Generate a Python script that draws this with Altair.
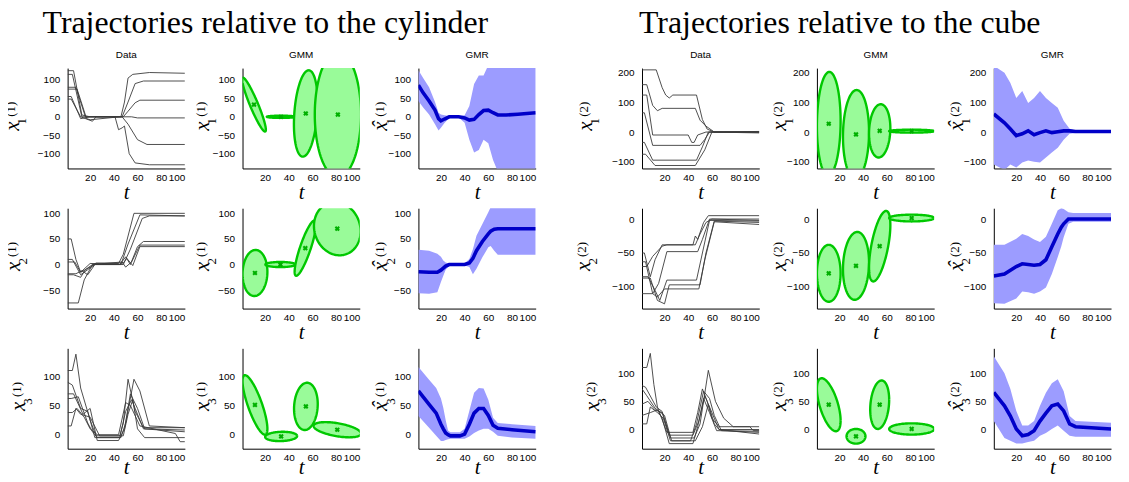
import altair as alt
import numpy as np
import pandas as pd

W, H = 118, 101
T_DOMAIN = [1, 100]
T_TICKS = [20, 40, 60, 80, 100]

CYL_YDOM = [[-140, 132], [-86, 110], [-24, 148]]
CYL_YTICKS = [[-100, -50, 0, 50, 100], [-50, 0, 50, 100], [0, 50, 100]]
CUBE_YDOM = [[-123, 216], [-132, 16], [-34, 144]]
CUBE_YTICKS = [[-100, 0, 100, 200], [-100, -50, 0], [0, 50, 100]]

GROUP_TITLES = ["Trajectories relative to the cylinder", "Trajectories relative to the cube"]
PANEL_TITLES = ["Data", "GMM", "GMR"]

# ---------------- Data: demonstrated trajectories (key points) ----------------
CYL_D1_T = [[1, 6, 13, 20, 46, 49, 52, 56, 70, 100],
            [1, 5, 13, 20, 47, 52, 58, 65, 100],
            [1, 8, 16, 48, 52, 58, 62, 100],
            [1, 9, 17, 20, 45, 55, 60, 100],
            [1, 4, 12, 20, 47, 52, 60, 68, 100],
            [1, 4, 12, 22, 25, 41, 44, 47, 49, 53, 58, 70, 100]]
CYL_D1_Y = [[125, 125, 5, 0, 0, 40, 105, 115, 120, 118],
            [115, 115, 0, 0, 0, 40, 90, 97, 97],
            [80, 80, 0, 0, 15, 38, 45, 45],
            [75, 75, -5, -8, 0, 0, -3, -3],
            [55, 55, -5, 0, 0, -20, -62, -75, -75],
            [48, 48, 0, -12, 0, 0, -35, -30, -25, -100, -125, -130, -130]]

CYL_D2_T = [[1, 4, 8, 12, 20, 44, 48, 57, 100],
            [1, 5, 12, 18, 24, 46, 52, 62, 100],
            [1, 6, 12, 16, 22, 48, 54, 64, 70, 100],
            [1, 8, 13, 18, 24, 45, 50, 54, 60, 65, 100],
            [1, 10, 15, 22, 47, 50, 55, 62, 100],
            [1, 7, 12, 20, 25, 48, 51, 56, 62, 100]]
CYL_D2_Y = [[50, 50, 10, -15, 2, 2, 20, 100, 100],
            [10, 10, -20, -10, 0, 0, 40, 97, 95],
            [-20, -20, -25, -10, 0, 0, 30, 90, 95, 95],
            [-18, -18, -12, -20, 0, 0, 15, 0, 35, 45, 45],
            [-75, -75, -30, 0, 5, -5, 5, 38, 38],
            [5, 5, -15, -5, 3, 3, 12, -2, 35, 35]]

CYL_D3_T = [[1, 5, 8, 12, 20, 25, 45, 48, 52, 58, 65, 100],
            [1, 5, 12, 18, 24, 46, 50, 57, 62, 70, 100],
            [1, 6, 14, 20, 26, 44, 49, 54, 60, 66, 100],
            [1, 4, 10, 18, 22, 26, 45, 50, 55, 65, 100],
            [1, 5, 9, 15, 20, 26, 44, 50, 54, 62, 92, 96, 100],
            [1, 4, 8, 12, 20, 28, 48, 52, 56, 60, 66, 100]]
CYL_D3_Y = [[110, 110, 138, 80, 25, -2, -2, 20, 95, 40, 12, 12],
            [90, 85, 45, 40, -5, -5, 20, 95, 75, 15, 12],
            [70, 70, 35, 45, -10, -10, 10, 70, 45, 10, 8],
            [62, 62, 65, 20, 5, -5, -5, 40, 60, 10, 5],
            [38, 38, 45, 30, 10, 0, 0, 55, 50, 15, 2, -12, -12],
            [15, 15, 45, 35, 30, -2, -2, 35, 60, 10, -5, -5]]

CUBE_D1_T = [[1, 13, 18, 21, 24, 27, 47, 52, 56, 62, 100],
             [1, 5, 10, 14, 18, 46, 50, 55, 62, 100],
             [1, 5, 10, 40, 43, 45, 48, 55, 100],
             [1, 3, 10, 50, 54, 58, 100],
             [1, 3, 10, 47, 52, 57, 100],
             [1, 4, 12, 46, 54, 60, 100]]
CUBE_D1_Y = [[210, 210, 150, 125, 115, 125, 125, 42, 10, 0, 0],
             [160, 160, 90, 72, 80, 80, 40, 20, 0, 0],
             [125, 125, -10, -10, -35, -35, -10, 0, 0],
             [65, 65, -45, -45, -25, 0, 0],
             [-35, -35, -95, -95, -50, 0, 2],
             [-75, -75, -113, -113, -60, 0, -3]]

CUBE_D2_T = [[1, 3, 8, 12, 18, 44, 46, 48, 53, 57, 100],
             [1, 4, 10, 15, 22, 48, 52, 58, 100],
             [1, 6, 12, 16, 22, 47, 52, 58, 100],
             [1, 8, 14, 20, 24, 50, 55, 62, 100],
             [1, 10, 14, 20, 49, 54, 62, 100],
             [1, 5, 10, 18, 22, 46, 50, 55, 60, 100]]
CUBE_D2_Y = [[-50, -50, -85, -60, -38, -38, -25, -30, -5, 5, 5],
             [-63, -63, -110, -95, -48, -48, -30, 0, 0],
             [-85, -85, -105, -120, -90, -90, -50, -2, -3],
             [-87, -87, -120, -125, -97, -97, -50, -3, -5],
             [-110, -110, -115, -103, -103, -60, -4, -8],
             [-70, -70, -55, -40, -38, -38, -22, -5, 0, -2]]

CUBE_D3_T = [[1, 5, 8, 11, 14, 22, 44, 48, 52, 56, 60, 66, 92, 95, 100],
             [1, 4, 13, 18, 25, 45, 50, 57, 63, 70, 78, 100],
             [1, 5, 12, 20, 26, 42, 47, 53, 58, 62, 68, 100],
             [1, 6, 12, 18, 24, 44, 49, 54, 60, 66, 100],
             [1, 8, 14, 18, 24, 44, 48, 53, 58, 64, 100],
             [1, 5, 8, 14, 19, 25, 46, 52, 57, 62, 66, 100]]
CUBE_D3_Y = [[110, 110, 135, 80, 40, -5, -5, 30, 72, 50, 20, 5, 5, -2, -2],
             [78, 75, 40, 32, -15, -15, 10, 105, 50, 20, 5, 5],
             [72, 60, 38, 25, -20, -20, 10, 68, 55, 25, -2, -5],
             [45, 50, 35, 30, -10, -10, 15, 60, 30, 0, -8],
             [25, 30, 35, 20, -25, -25, 5, 55, 30, -2, -3],
             [10, 10, 40, 30, 20, -20, -20, 5, 45, 10, 0, 0]]

# ---------------- GMM: 4 Gaussians per panel ----------------
# centre (t, y), half extents (t, y), correlation
CYL_G_CT = [[10.7, 33.5, 54.4, 81.5], [11.5, 33, 54, 81], [11.5, 33.6, 54.5, 81]]
CYL_G_CY = [[33, 0, 9, 6], [-16.5, 0, 32, 70], [51, -3, 48.5, 8.5]]
CYL_G_RT = [[10, 12, 10, 19.5], [10.5, 12.7, 9, 19.7], [10.5, 13.5, 10, 20]]
CYL_G_RY = [[73, 3, 117, 170], [45, 5, 54, 52], [51, 8, 40.5, 13]]
CYL_G_RHO = [[-0.93, 0, 0.25, 0], [0.05, 0, 0.85, -0.1], [-0.8, 0.1, 0.1, -0.5]]

CUBE_G_CT = [[11, 34, 54, 81], [11, 34, 54, 81], [11, 34, 54, 81]]
CUBE_G_CY = [[28, -8, 4, 3], [-80, -69, -40, 1.5], [44, -12, 44, 1]]
CUBE_G_RT = [[10, 11, 9, 19], [10, 11, 9, 19], [10, 8, 8, 19]]
CUBE_G_RY = [[175, 150, 90, 5], [42, 50, 52, 5], [47, 13, 43, 10]]
CUBE_G_RHO = [[0.05, 0.05, 0.1, 0], [0, 0.1, 0.6, 0], [-0.6, 0, 0.2, 0]]

# ---------------- GMR: mean and envelope ----------------
CYL_R_T = [[1, 5, 10, 15, 18, 20, 23, 27, 35, 40, 44, 48, 52, 56, 60, 64, 68, 75, 85, 100],
           [1, 10, 17, 20, 22, 24, 27, 40, 44, 47, 50, 55, 60, 62, 65, 68, 100],
           [1, 10, 16, 20, 22, 24, 26, 28, 36, 40, 44, 48, 52, 56, 60, 64, 68, 80, 100]]
CYL_R_MEAN = [[86, 65, 43, 18, -5, -11, -6, 0, 0, -3, -9, -7, 6, 17, 18, 11, 5, 5, 7, 11],
              [-14, -15, -15, -11, -7, -3, 0, 0, 3, 12, 27, 45, 60, 65, 69, 70, 70],
              [75, 52, 37, 18, 10, 3, 0, -2, -2, 1, 18, 37, 45, 45, 33, 16, 11, 8.5, 5]]
CYL_R_HI = [[126, 105, 80, 40, 11, 6, 4, 2, 2, 4, 29, 89, 112, 112, 140, 140, 140, 140, 140, 140],
            [29, 27, 21, 15, 8, 4, 2, 2, 11, 30, 56, 79, 102, 112, 118, 118, 118],
            [116, 94, 80, 62, 46, 25, 7, 4, 4, 10, 41, 72, 80, 79, 60, 29, 20, 18, 15]]
CYL_R_LO = [[43, 25, 6, -20, -37, -30, -17, -3, -2, -16, -62, -97, -90, -62, -72, -117, -148, -148, -148, -148],
            [-56, -57, -54, -34, -22, -10, -3, -2, -5, -19, -8, 14, 34, 36, 27, 19, 19],
            [32, 12, -2, -11, -11, -9, -8, -7, -7, -7, -3, 3, 7, 10, 10, 5, -2, -5, -7]]

CUBE_R_T = [[1, 10, 15, 20, 25, 30, 35, 40, 45, 50, 55, 60, 65, 70, 100],
            [1, 10, 20, 25, 30, 35, 40, 45, 50, 55, 58, 60, 64, 68, 100],
            [1, 10, 15, 20, 25, 30, 35, 40, 45, 50, 55, 60, 65, 70, 100]]
CUBE_R_MEAN = [[61, 31, 10, -12, -6, 4, -9, -2, 4, -2, 1, 4, 4, 2, 2],
               [-84, -81, -70, -66, -67, -68, -67, -60, -41, -22, -12, -7, 0, 0, 0],
               [66, 42, 24, 1, -11, -9, -2, 15, 29, 42, 45, 33, 10, 5, 1]]
CUBE_R_HI = [[224, 200, 166, 115, 139, 98, 115, 139, 115, 98, 82, 38, 11, 5, 5],
             [-38, -38, -29, -22, -25, -30, -34, -26, -7, 13, 16, 15, 10, 9, 9],
             [130, 100, 72, 33, 7, 7, 15, 42, 65, 82, 89, 68, 24, 15, 12]]
CUBE_R_LO = [[-110, -128, -110, -120, -103, -96, -100, -103, -86, -69, -53, -26, -6, -3, -3],
             [-124, -125, -117, -107, -108, -110, -107, -101, -81, -56, -40, -27, -7, -4, -4],
             [15, -15, -20, -25, -25, -22, -20, -11, -6, 1, 7, -2, -11, -13, -13]]

# ---------------- layout (pixels) ----------------
PLOT_LEFT = [68, 243, 419, 643, 818, 995]   # page x of each panel column
PAGE_LEFT = 1                                # page x where the chart bounds start
HSP = -6                                     # spacing inside a group
ER = 9.5                                     # frame right of plot
VSP = -10                                    # row spacing
ET = [22, 11, 11]                            # frame above plot per row
EB = [39, 39, 31]                            # frame below plot per row
T_TITLE_Y = [30, 30, 25]                     # baseline of the "t" axis title
# y-label glyph centre (px from plot left), per row and column
LAB_GX = [[-53.5, -39, -36, -55, -36, -36],
          [-53, -39, -36, -57, -36, -36],
          [-48, -39, -36, -48, -36, -36]]
LAB_GY = H / 2 + 8
TITLE_CX = [266, 841]

SERIF = "Liberation Serif"
SANS = "Liberation Sans"


def frame_left(c):
    if c == 0:
        return PLOT_LEFT[0] - PAGE_LEFT
    if c == 3:
        return PLOT_LEFT[3] - (PLOT_LEFT[2] + W + ER)
    return PLOT_LEFT[c] - PLOT_LEFT[c - 1] - W - ER - HSP


def x_enc(r):
    return alt.X("t:Q", scale=alt.Scale(domain=T_DOMAIN, nice=False, zero=False),
                 axis=alt.Axis(values=T_TICKS, title="t", titleY=T_TITLE_Y[r],
                               titleBaseline="alphabetic", labelPadding=4))


def y_enc(field, ydom, yticks):
    return alt.Y(f"{field}:Q", scale=alt.Scale(domain=ydom, nice=False, zero=False),
                 axis=alt.Axis(values=yticks, title=None, labelPadding=8))


def one():
    return alt.Chart(pd.DataFrame({"k": [0]}))


def dot(x, y):
    return one().mark_rect(color="white", opacity=1).encode(
        x=alt.value(x), x2=alt.value(x + 1), y=alt.value(y), y2=alt.value(y + 1))


def decorations(r, c, g, hat, title):
    gx = LAB_GX[r][c]
    gy = LAB_GY
    fs = 21
    ax = gx - 1.2
    layers = [
        dot(-frame_left(c), -ET[r]),
        dot(W + ER - 1, H + EB[r] - 1),
        one().mark_text(text="x", font=SERIF, fontStyle="italic", fontSize=fs, angle=270,
                        align="center", baseline="middle", color="black"
                        ).encode(x=alt.value(ax), y=alt.value(gy)),
        one().mark_text(text=f"({g})", font=SERIF, fontSize=13, angle=270,
                        align="center", baseline="middle", color="black"
                        ).encode(x=alt.value(gx - 3), y=alt.value(gy - 17)),
        one().mark_text(text=str(r + 1), font=SERIF, fontSize=13, angle=270,
                        align="center", baseline="middle", color="black"
                        ).encode(x=alt.value(gx + 8), y=alt.value(gy - 5)),
    ]
    if hat:
        layers.append(one().mark_text(text="\u02c6", font=SERIF, fontStyle="italic", fontSize=fs,
                                      angle=270, align="center", baseline="middle", color="black"
                                      ).encode(x=alt.value(ax), y=alt.value(gy - 1.5)))
    if title:
        layers.append(one().mark_text(text=title, font=SANS, fontSize=10, align="center",
                                      baseline="middle", color="black"
                                      ).encode(x=alt.value(W / 2), y=alt.value(-13)))
    return layers


def data_panel(r, ts, ys, ydom, yticks, deco):
    rows = []
    for i, (tt, yy) in enumerate(zip(ts, ys)):
        for a, b in zip(tt, yy):
            rows.append({"t": a, "y": b, "id": i})
    df = pd.DataFrame(rows)
    lines = alt.Chart(df).mark_line(color="#3a3a3a", strokeWidth=0.9, clip=True).encode(
        x=x_enc(r), y=y_enc("y", ydom, yticks), detail="id:N")
    return alt.layer(lines, *deco).properties(width=W, height=H)


def gmm_panel(r, ct, cy, rt, ry, rho, ydom, yticks, deco):
    layers = []
    th_half = np.linspace(0, np.pi, 61)
    th_full = np.linspace(0, 2 * np.pi, 121)
    for k in range(len(ct)):
        kk = np.sqrt(1 - rho[k] ** 2)
        c, s = np.cos(th_half), np.sin(th_half)
        fill = pd.DataFrame({"t": ct[k] + rt[k] * c,
                             "lo": cy[k] + ry[k] * (rho[k] * c - kk * s),
                             "hi": cy[k] + ry[k] * (rho[k] * c + kk * s)})
        c2, s2 = np.cos(th_full), np.sin(th_full)
        outline = pd.DataFrame({"t": ct[k] + rt[k] * c2,
                                "y": cy[k] + ry[k] * (rho[k] * c2 + kk * s2),
                                "o": np.arange(len(th_full))})
        layers.append(alt.Chart(fill).mark_area(color="#99fb99", opacity=1, clip=True).encode(
            x=x_enc(r), y=y_enc("lo", ydom, yticks), y2="hi:Q"))
        layers.append(alt.Chart(outline).mark_line(color="#00c800", strokeWidth=2.4, clip=True).encode(
            x=x_enc(r), y=y_enc("y", ydom, yticks), order="o:Q"))
    centres = pd.DataFrame({"t": ct, "y": cy})
    layers.append(alt.Chart(centres).mark_point(shape="cross", angle=45, filled=True, size=28,
                                                color="#00b000", opacity=1, clip=True).encode(
        x=x_enc(r), y=y_enc("y", ydom, yticks)))
    return alt.layer(*layers, *deco).properties(width=W, height=H)


def gmr_panel(r, t, mean, hi, lo, ydom, yticks, deco):
    df = pd.DataFrame({"t": t, "mean": mean, "hi": hi, "lo": lo})
    band = alt.Chart(df).mark_area(color="#9c9cff", opacity=1, clip=True).encode(
        x=x_enc(r), y=y_enc("lo", ydom, yticks), y2="hi:Q")
    line = alt.Chart(df).mark_line(color="#0000c8", strokeWidth=3.6, clip=True).encode(
        x=x_enc(r), y=y_enc("mean", ydom, yticks))
    return alt.layer(band, line, *deco).properties(width=W, height=H)


GROUPS = [
    dict(D_T=[CYL_D1_T, CYL_D2_T, CYL_D3_T], D_Y=[CYL_D1_Y, CYL_D2_Y, CYL_D3_Y],
         G=(CYL_G_CT, CYL_G_CY, CYL_G_RT, CYL_G_RY, CYL_G_RHO),
         R=(CYL_R_T, CYL_R_MEAN, CYL_R_HI, CYL_R_LO), YDOM=CYL_YDOM, YTICKS=CYL_YTICKS),
    dict(D_T=[CUBE_D1_T, CUBE_D2_T, CUBE_D3_T], D_Y=[CUBE_D1_Y, CUBE_D2_Y, CUBE_D3_Y],
         G=(CUBE_G_CT, CUBE_G_CY, CUBE_G_RT, CUBE_G_RY, CUBE_G_RHO),
         R=(CUBE_R_T, CUBE_R_MEAN, CUBE_R_HI, CUBE_R_LO), YDOM=CUBE_YDOM, YTICKS=CUBE_YTICKS),
]

groups = []
for gi, G in enumerate(GROUPS):
    g = gi + 1
    rows = []
    for r in range(3):
        yd, yt = G["YDOM"][r], G["YTICKS"][r]
        panels = []
        for j in range(3):
            c = gi * 3 + j
            deco = decorations(r, c, g, j == 2, PANEL_TITLES[j] if r == 0 else None)
            if j == 0:
                panels.append(data_panel(r, G["D_T"][r], G["D_Y"][r], yd, yt, deco))
            elif j == 1:
                gg = G["G"]
                panels.append(gmm_panel(r, gg[0][r], gg[1][r], gg[2][r], gg[3][r], gg[4][r],
                                        yd, yt, deco))
            else:
                rr = G["R"]
                panels.append(gmr_panel(r, rr[0][r], rr[1][r], rr[2][r], rr[3][r], yd, yt, deco))
        rows.append(alt.hconcat(*panels, spacing=HSP))
    left = PLOT_LEFT[gi * 3] - frame_left(gi * 3)
    right = PLOT_LEFT[gi * 3 + 2] + W + ER
    dx = TITLE_CX[gi] - (left + right) / 2
    groups.append(alt.vconcat(*rows, spacing=VSP, title=alt.TitleParams(
        GROUP_TITLES[gi], font=SERIF, fontSize=32, fontWeight="normal", color="black",
        anchor="middle", baseline="top", offset=6, dx=dx)))

chart = alt.hconcat(*groups, spacing=0).properties(
    padding={"left": PAGE_LEFT - 8, "top": -2, "right": 0, "bottom": -6},
    background="white"
).configure_view(stroke=None).configure_axis(
    grid=False, ticks=False, domainColor="black", domainWidth=1,
    labelFont=SANS, labelFontSize=10, labelColor="black",
    titleFont=SERIF, titleFontStyle="italic", titleFontWeight="normal", titleFontSize=21,
    titleColor="black"
)

chart.save("out.html", embed_options={"renderer": "svg", "actions": False})
